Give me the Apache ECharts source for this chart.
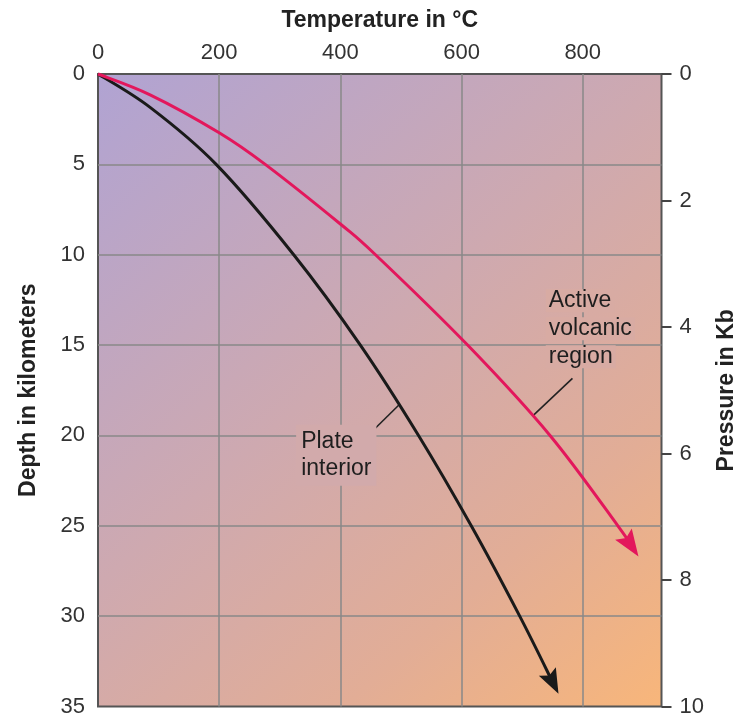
<!DOCTYPE html>
<html>
<head>
<meta charset="utf-8">
<script src="https://cdn.jsdelivr.net/npm/echarts@6/dist/echarts.min.js"></script>
<style>
html,body{margin:0;padding:0;background:#ffffff;}
#c{width:747px;height:718px;}
</style>
</head>
<body>
<div id="c"></div>
<script>
// ---- data ----
const tempMin = 0, tempMax = 930, tempStep = 200;          // Temperature in °C (top axis)
const depthMin = 0, depthMax = 35, depthStep = 5;           // Depth in kilometers (left axis)
const pressMin = 0, pressMax = 10, pressStep = 2;           // Pressure in Kb (right axis)

// [temperature °C, depth km]
const plateInterior = [[0,0],[86,1.85],[195,5],[323,10],[433,15],[529,20],[616,25],[696,30],[760,34.3]];
const activeVolcanic = [[0,0],[86,1.15],[200,3.25],[276,5],[400,8.3],[458,10],[610,15],[746,20],[858,25],[892,26.7]];

// annotation anchors [temperature, depth]
const plateLabelAt = [327, 21.1];
const plateLeader = [[435, 20.35], [497, 18.3]];
const activeLabelAt = [739, 14.1];
const activeLeader = [[783, 16.84], [718, 18.9]];
const plateText = ['Plate', 'interior'];
const activeText = ['Active', 'volcanic', 'region'];

// ---- style ----
const FONT = 'Liberation Sans, Arial, Helvetica, sans-serif';
const G = {left: 98, right: 85.5, top: 74, bottom: 11.5};
const bgStops = [[0, '#b0a3d3'], [0.45, '#cea9b0'], [0.75, '#e2ad96'], [1, '#f8b67a']];
const BLACK = '#1a1a1a', RED = '#e3175c';

function hex(c){return [parseInt(c.slice(1,3),16),parseInt(c.slice(3,5),16),parseInt(c.slice(5,7),16)];}
function gradAt(px, py){
  const w = 747 - G.left - G.right, h = 718 - G.top - G.bottom;
  let t = ((px - G.left) * w + (py - G.top) * h) / (w * w + h * h);
  t = Math.max(0, Math.min(1, t));
  for (let i = 1; i < bgStops.length; i++) {
    if (t <= bgStops[i][0]) {
      const a = bgStops[i-1], b = bgStops[i];
      const f = (t - a[0]) / (b[0] - a[0]);
      const ca = hex(a[1]), cb = hex(b[1]);
      return 'rgb(' + ca.map((v, k) => Math.round(v + (cb[k] - v) * f)).join(',') + ')';
    }
  }
  return bgStops[bgStops.length-1][1];
}

// smooth curve with arrowhead, drawn through the axes' scales (api.coord)
function curveRenderer(points, color, L, W){
  return function(params, api){
    const p = points.map(d => api.coord(d));
    const n = p.length;
    const tip = p[n-1], prev = p[n-2];
    let ux = tip[0] - prev[0], uy = tip[1] - prev[1];
    const len = Math.hypot(ux, uy); ux /= len; uy /= len;
    const nx = -uy, ny = ux;
    const base = [tip[0] - L * ux, tip[1] - L * uy];
    const notch = [tip[0] - 0.82 * L * ux, tip[1] - 0.82 * L * uy];
    const q = p.slice(); q[n-1] = [tip[0] - 0.5 * L * ux, tip[1] - 0.5 * L * uy];
    let d = 'M' + q[0][0] + ' ' + q[0][1];
    for (let i = 0; i < n - 1; i++) {
      const p0 = q[i-1] || q[i], p1 = q[i], p2 = q[i+1], p3 = q[i+2] || q[i+1];
      const c1 = [p1[0] + (p2[0] - p0[0]) / 6, p1[1] + (p2[1] - p0[1]) / 6];
      const c2 = [p2[0] - (p3[0] - p1[0]) / 6, p2[1] - (p3[1] - p1[1]) / 6];
      d += ' C' + c1[0] + ' ' + c1[1] + ' ' + c2[0] + ' ' + c2[1] + ' ' + p2[0] + ' ' + p2[1];
    }
    return {type: 'group', children: [
      {type: 'path', shape: {pathData: d}, style: {fill: 'none', stroke: color, lineWidth: 3}},
      {type: 'polygon', shape: {points: [tip, [base[0] + W * nx, base[1] + W * ny], notch, [base[0] - W * nx, base[1] - W * ny]]},
       style: {fill: color}}
    ]};
  };
}

const chart = echarts.init(document.getElementById('c'));

function buildOption(plateMask, activeMask){
  return {
    animation: false,
    grid: {
      left: G.left, right: G.right, top: G.top, bottom: G.bottom,
      show: true, borderColor: '#555', borderWidth: 2,
      backgroundColor: {type: 'linear', x: 0, y: 0, x2: 1, y2: 1,
        colorStops: bgStops.map(s => ({offset: s[0], color: s[1]}))}
    },
    xAxis: {
      type: 'value', position: 'top', min: tempMin, max: tempMax, interval: tempStep,
      name: 'Temperature in °C', nameLocation: 'middle', nameGap: 42,
      nameTextStyle: {fontFamily: FONT, fontSize: 23, fontWeight: 'bold', color: '#222'},
      axisLine: {show: false}, axisTick: {show: false},
      axisLabel: {fontFamily: FONT, fontSize: 22, color: '#333', margin: 10, showMaxLabel: false},
      splitLine: {show: true, showMinLine: false, showMaxLine: false, lineStyle: {color: '#888', width: 1.5}}
    },
    yAxis: [{
      type: 'value', position: 'left', inverse: true, min: depthMin, max: depthMax, interval: depthStep,
      name: 'Depth in kilometers', nameLocation: 'middle', nameGap: 58, nameRotate: 90,
      nameTextStyle: {fontFamily: FONT, fontSize: 23, fontWeight: 'bold', color: '#222'},
      axisLine: {show: false}, axisTick: {show: false},
      axisLabel: {fontFamily: FONT, fontSize: 22, color: '#333', margin: 13},
      splitLine: {show: true, showMinLine: false, showMaxLine: false, lineStyle: {color: '#888', width: 1.5}}
    }, {
      type: 'value', position: 'right', inverse: true, min: pressMin, max: pressMax, interval: pressStep,
      name: 'Pressure in Kb', nameLocation: 'middle', nameGap: 50, nameRotate: 90,
      nameTextStyle: {fontFamily: FONT, fontSize: 23, fontWeight: 'bold', color: '#222'},
      axisLine: {show: false},
      axisTick: {show: true, inside: false, length: 10, lineStyle: {color: '#444', width: 2}},
      axisLabel: {fontFamily: FONT, fontSize: 22, color: '#333', margin: 18},
      splitLine: {show: false}
    }],
    series: [
      {type: 'custom', name: 'Plate interior', coordinateSystem: 'cartesian2d', z: 3, silent: true,
       data: [plateInterior[plateInterior.length - 1]], renderItem: curveRenderer(plateInterior, BLACK, 25, 9.5)},
      {type: 'custom', name: 'Active volcanic region', coordinateSystem: 'cartesian2d', z: 3, silent: true,
       data: [activeVolcanic[activeVolcanic.length - 1]], renderItem: curveRenderer(activeVolcanic, RED, 27, 10)},
      {type: 'lines', coordinateSystem: 'cartesian2d', z: 2, symbol: ['none', 'none'],
       lineStyle: {color: '#222', width: 1.6, opacity: 1},
       data: [{coords: plateLeader}, {coords: activeLeader}]},
      {type: 'scatter', z: 5, symbolSize: 0, silent: true, itemStyle: {opacity: 1},
       data: [
         {value: plateLabelAt, label: {
           show: true, position: 'right', distance: 0,
           formatter: plateText.join('\n'),
           fontFamily: FONT, fontSize: 23, lineHeight: 27, color: '#1e1e1e',
           align: 'left', verticalAlign: 'middle',
           backgroundColor: plateMask, padding: [3, 5, 4, 5]}},
         {value: activeLabelAt, label: {
           show: true, position: 'right', distance: 0,
           formatter: activeText.map(s => '{a|' + s + '}').join('\n'),
           align: 'left', verticalAlign: 'middle',
           rich: {a: {fontFamily: FONT, fontSize: 23, lineHeight: 28, color: '#1e1e1e',
                      backgroundColor: activeMask, padding: [0, 3]}}}}
       ]}
    ]
  };
}

chart.setOption(buildOption('transparent', 'transparent'));
const pp = chart.convertToPixel({xAxisIndex: 0, yAxisIndex: 0}, [plateLabelAt[0] + 40, plateLabelAt[1]]);
const ap = chart.convertToPixel({xAxisIndex: 0, yAxisIndex: 0}, [activeLabelAt[0] + 60, activeLabelAt[1]]);
chart.setOption(buildOption(gradAt(pp[0], pp[1]), gradAt(ap[0], ap[1])));
</script>
</body>
</html>
